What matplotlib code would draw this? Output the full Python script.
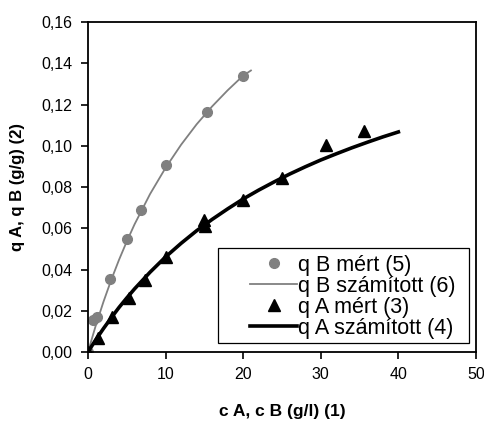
import matplotlib
matplotlib.use('Agg')
import matplotlib.pyplot as plt
from matplotlib.patches import Rectangle
from matplotlib.ticker import FuncFormatter

plt.rcParams['font.family'] = ['Liberation Sans', 'DejaVu Sans']

# q B measured (5)
cB_meas = [0.0, 0.68, 1.2, 2.84, 5.06, 6.83, 10.05, 15.37, 20.01]
qB_meas = [0.0, 0.0156, 0.0172, 0.0355, 0.0548, 0.069, 0.0906, 0.1164, 0.1339]

# q B calculated (6)
cB_calc = [0, 1, 2, 3, 4, 5, 6, 8, 10, 12, 14, 16, 18, 20, 21]
qB_calc = [0.0, 0.0128, 0.0244, 0.0350, 0.0447, 0.0536, 0.0619, 0.0766,
           0.0893, 0.1005, 0.1104, 0.1191, 0.1269, 0.1340, 0.1365]

# q A measured (3)
cA_meas = [0.0, 1.33, 3.13, 5.32, 7.35, 10.05, 14.99, 15.1, 20.0, 24.96, 30.67, 35.57]
qA_meas = [0.0, 0.0068, 0.0172, 0.0261, 0.035, 0.0463, 0.0642, 0.0613, 0.0739,
           0.0844, 0.1002, 0.1071]

# q A calculated (4)
cA_calc = [0, 1, 2, 3, 4, 5, 6, 8, 10, 12, 14, 16, 18, 20, 22, 24, 26, 28, 30,
           32, 34, 36, 38, 40]
qA_calc = [0.0, 0.0059, 0.0114, 0.0166, 0.0216, 0.0262, 0.0306, 0.0387, 0.0461,
           0.0527, 0.0588, 0.0643, 0.0694, 0.0742, 0.0785, 0.0825, 0.0863,
           0.0898, 0.0931, 0.0961, 0.0990, 0.1017, 0.1043, 0.1067]

xticks = [0, 10, 20, 30, 40, 50]
yticks = [0, 0.02, 0.04, 0.06, 0.08, 0.10, 0.12, 0.14, 0.16]

fig = plt.figure(figsize=(4.85, 4.21), dpi=100)
ax = fig.add_axes([0.1814, 0.1639, 0.80, 0.7838])

ax.plot(cB_meas, qB_meas, 'o', color='#808080', markersize=7, label='q B mért (5)')
ax.plot(cB_calc, qB_calc, '-', color='#808080', linewidth=1.3, label='q B számított (6)')
ax.plot(cA_meas, qA_meas, '^', color='black', markersize=8, label='q A mért (3)')
ax.plot(cA_calc, qA_calc, '-', color='black', linewidth=2.6, label='q A számított (4)')

ax.set_xlim(0, 50)
ax.set_ylim(0, 0.16)
ax.set_xticks(xticks)
ax.set_yticks(yticks)
ax.yaxis.set_major_formatter(FuncFormatter(lambda v, p: f'{v:.2f}'.replace('.', ',')))
ax.tick_params(direction='out', length=5, width=1.2, labelsize=11.5, pad=6)
for s in ax.spines.values():
    s.set_linewidth(1.3)

ax.set_xlabel('c A, c B (g/l) (1)', fontsize=12.5, fontweight='bold', labelpad=16)
ax.set_ylabel('q A, q B (g/g) (2)', fontsize=12, fontweight='bold', labelpad=12)

# legend box drawn separately, legend entries placed inside it
ax.add_patch(Rectangle((0.335, 0.027), 0.647, 0.288, transform=ax.transAxes,
                       facecolor='white', edgecolor='black', linewidth=0.9, zorder=4))
leg = ax.legend(loc='lower right', bbox_to_anchor=(0.948, 0.04), borderaxespad=0,
                fontsize=15.5, labelspacing=0.0, handlelength=2.2, handletextpad=0.05,
                borderpad=0.0, frameon=False)
leg.set_zorder(5)

fig.savefig('out.png', dpi=100)
